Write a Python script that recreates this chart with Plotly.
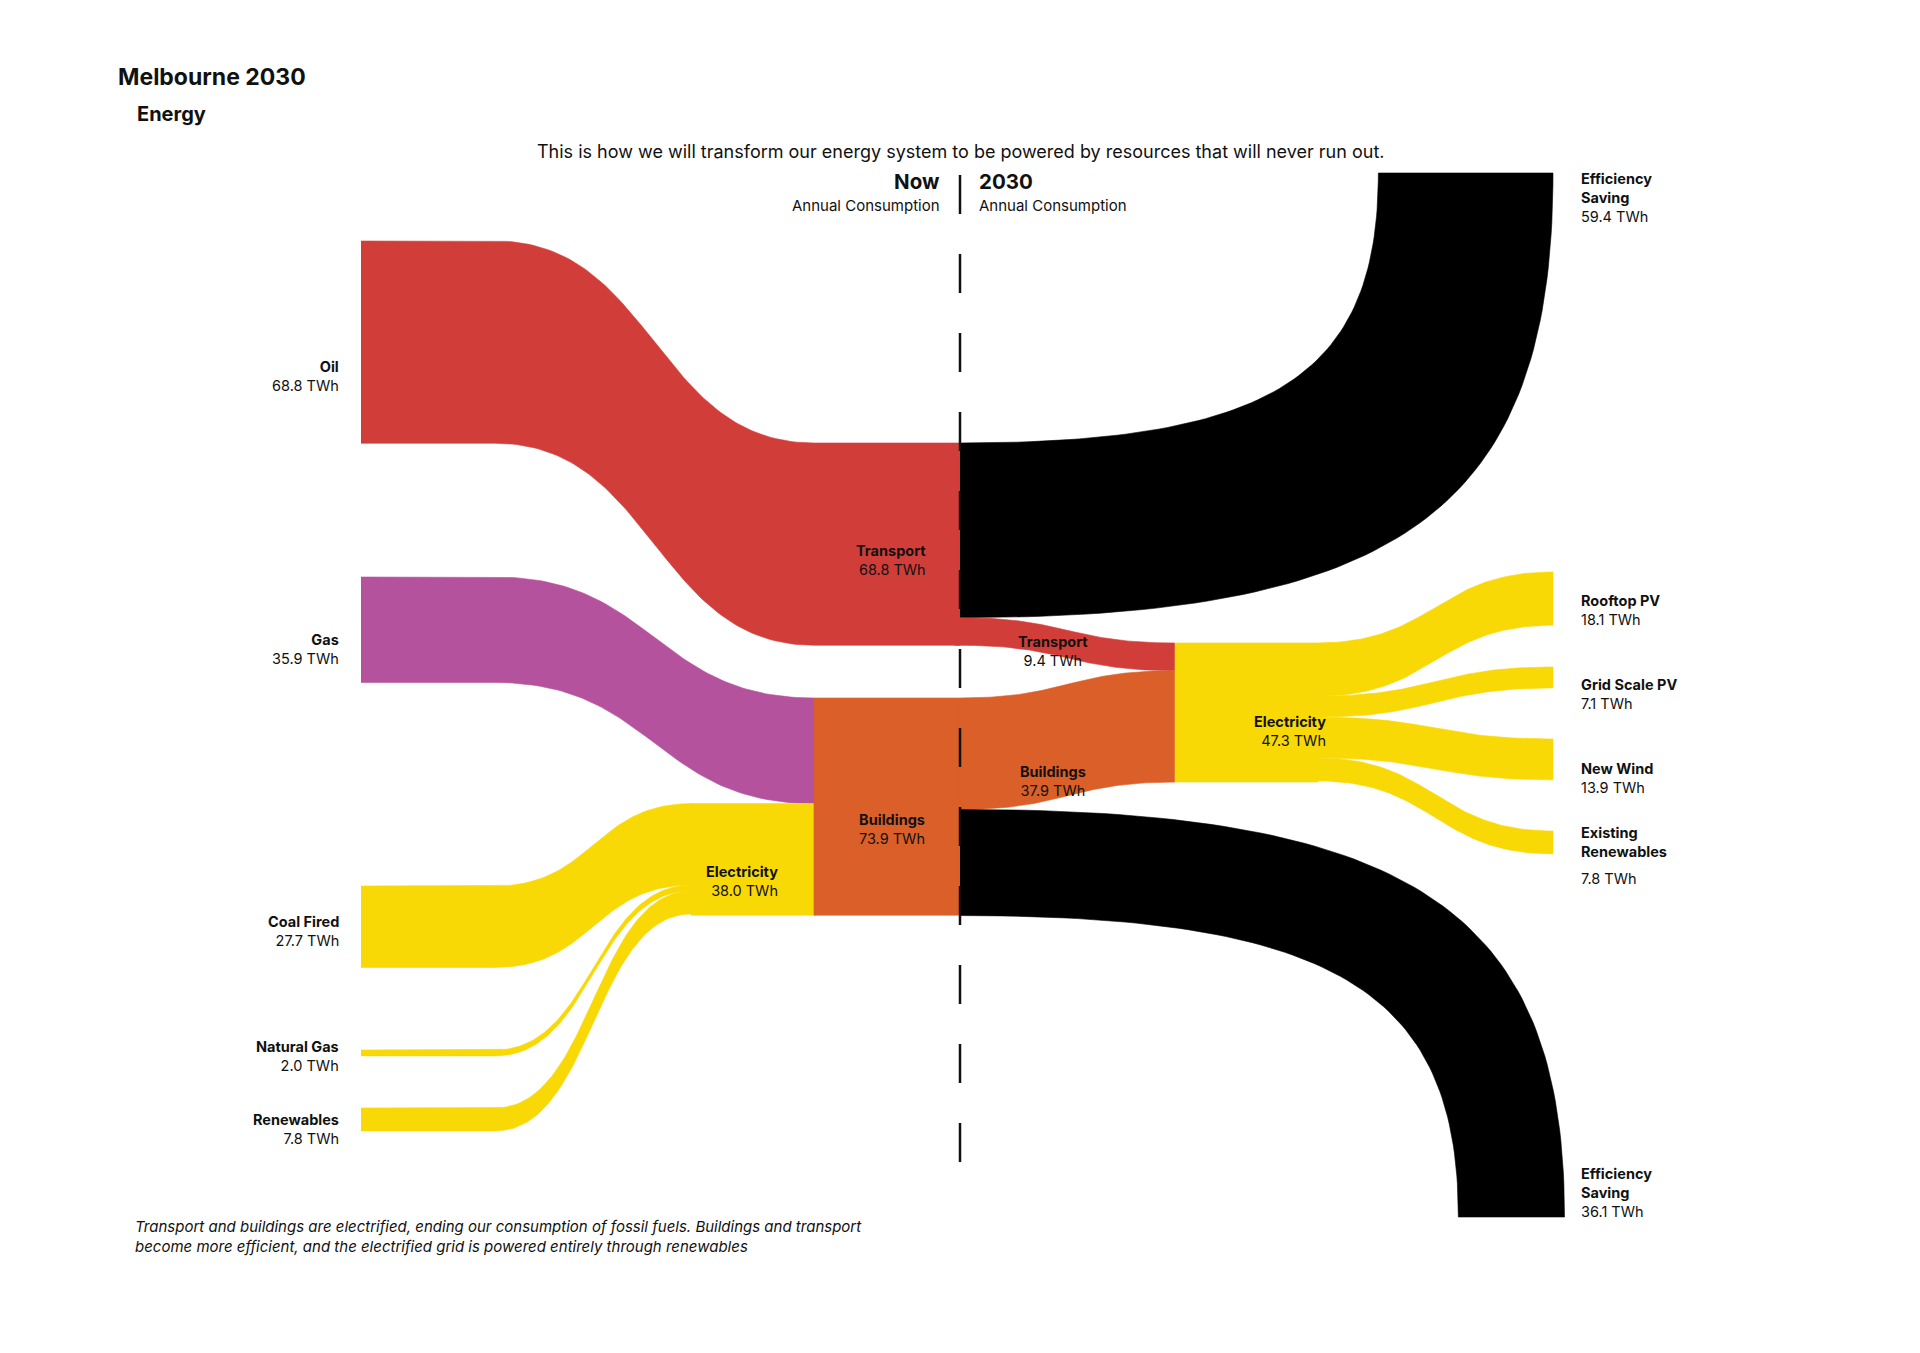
import numpy as np
import plotly.graph_objects as go

# ---------------- data (TWh) ----------------
now_sources = ["Oil", "Gas", "Coal Fired", "Natural Gas", "Renewables"]
now_source_values = [68.8, 35.9, 27.7, 2.0, 7.8]
now_electricity_value = 38.0
now_sectors = ["Transport", "Buildings"]
now_sector_values = [68.8, 73.9]
future_sectors = ["Transport", "Buildings"]
future_sector_values = [9.4, 37.9]
saving_labels = ["Efficiency Saving", "Efficiency Saving"]
saving_values = [59.4, 36.1]
future_electricity_value = 47.3
future_sources = ["Rooftop PV", "Grid Scale PV", "New Wind", "Existing Renewables"]
future_source_values = [18.1, 7.1, 13.9, 7.8]

# ---------------- style / layout ----------------
RED, PURPLE, YELLOW, ORANGE, BLACK = "#D13E3A", "#B4529D", "#F8D906", "#DB5F29", "#000000"
TXT = "#111111"
FONT = "Inter"
W, H = 1920, 1353
K = 2.94  # px per TWh

X_SRC, X_SRC_END = 361, 495
X_ELEC1, X_MID, X_DIV = 692, 814, 960
X_ELEC2, X_ELEC2_END, X_RIGHT = 1175, 1317, 1553
src_tops = [241, 577, 886, 1050, 1108]
transport_top, buildings_top = 443, 698
elec2_top = 643
right_tops = [572, 667, 739, 831]
saving_end_y = [173, 1217]
saving_end_right = [1553, 1564.5]
TURN = 0.75
LABEL_SIZE = 14.5

fig = go.Figure()


def bez(p0, p1, p2, p3, n=80):
    t = np.linspace(0, 1, n)[:, None]
    p0, p1, p2, p3 = map(np.array, (p0, p1, p2, p3))
    pts = (1 - t) ** 3 * p0 + 3 * (1 - t) ** 2 * t * p1 + 3 * (1 - t) * t ** 2 * p2 + t ** 3 * p3
    return pts[:, 0], pts[:, 1]


def s_edge(x0, y0, x1, y1):
    xm = (x0 + x1) / 2
    return bez((x0, y0), (xm, y0), (xm, y1), (x1, y1))


def add_poly(xs, ys, color):
    fig.add_trace(go.Scatter(x=list(xs), y=list(ys), mode="lines", fill="toself",
                             fillcolor=color, line=dict(color=color, width=0.6),
                             hoverinfo="skip", showlegend=False))


def s_band(x0, y0, x1, y1, value, color, xl=None, xr=None):
    w = value * K
    tx, ty = s_edge(x0, y0, x1, y1)
    bx, by = s_edge(x0, y0 + w, x1, y1 + w)
    xl = x0 if xl is None else xl
    xr = x1 if xr is None else xr
    xs = [xl] + list(tx) + [xr, xr] + list(bx[::-1]) + [xl]
    ys = [y0] + list(ty) + [y1, y1 + w] + list(by[::-1]) + [y0 + w]
    add_poly(xs, ys, color)


def turn_edge(x0, y0, x3, y3):
    return bez((x0, y0), (x0 + TURN * (x3 - x0), y0), (x3, y3 + TURN * (y0 - y3)), (x3, y3))


def rect(x0, x1, y0, value, color):
    add_poly([x0, x1, x1, x0, x0], [y0, y0, y0 + value * K, y0 + value * K, y0], color)


# ---- "Now" side ----
# Oil -> Transport
s_band(X_SRC_END, src_tops[0], X_MID, transport_top, now_source_values[0], RED, xl=X_SRC, xr=X_DIV)
# Gas -> Buildings
s_band(X_SRC_END, src_tops[1], X_MID, buildings_top, now_source_values[1], PURPLE, xl=X_SRC)
# Electricity (now) node and its inputs
elec1_top = buildings_top + now_source_values[1] * K
y = elec1_top
for top, v in zip(src_tops[2:], now_source_values[2:]):
    s_band(X_SRC_END, top, X_ELEC1, y, v, YELLOW, xl=X_SRC)
    y += v * K
rect(X_ELEC1 - 1, X_MID + 1, elec1_top, now_electricity_value, YELLOW)
# Buildings node
rect(X_MID, X_DIV, buildings_top, now_sector_values[1], ORANGE)

# ---- "2030" side ----
# Transport: efficiency saving (turns up) then remaining transport to electricity
w_sv = saving_values[0] * K
ix, iy = turn_edge(X_DIV, transport_top, saving_end_right[0] - w_sv, saving_end_y[0])
ox, oy = turn_edge(X_DIV, transport_top + w_sv, saving_end_right[0], saving_end_y[0])
add_poly(list(ix) + list(ox[::-1]), list(iy) + list(oy[::-1]), BLACK)

t_top = transport_top + w_sv
s_band(X_DIV, t_top, X_ELEC2, elec2_top, future_sector_values[0], RED, xl=X_DIV - 6)
b_top = buildings_top
s_band(X_DIV, b_top, X_ELEC2, elec2_top + future_sector_values[0] * K, future_sector_values[1], ORANGE)

# Buildings efficiency saving (turns down)
w_sb = saving_values[1] * K
s0 = buildings_top + future_sector_values[1] * K
ox, oy = turn_edge(X_DIV, s0, saving_end_right[1], saving_end_y[1])
ix, iy = turn_edge(X_DIV, s0 + w_sb, saving_end_right[1] - w_sb, saving_end_y[1])
add_poly(list(ox) + list(ix[::-1]), list(oy) + list(iy[::-1]), BLACK)

# Electricity 2030 node and fan-out
y = elec2_top
for top, v in zip(right_tops, future_source_values):
    s_band(X_ELEC2_END, y, X_RIGHT, top, v, YELLOW)
    y += v * K
rect(X_ELEC2, X_ELEC2_END + 1, elec2_top, future_electricity_value, YELLOW)

# ---- divider ----
fig.add_trace(go.Scatter(x=[X_DIV, X_DIV], y=[175, 214], mode="lines",
                         line=dict(color=TXT, width=2.5), hoverinfo="skip", showlegend=False))
fig.add_trace(go.Scatter(x=[X_DIV, X_DIV], y=[254, 1163], mode="lines",
                         line=dict(color=TXT, width=2.5, dash="39px,40px"),
                         hoverinfo="skip", showlegend=False))

# ---------------- text ----------------
def ann(x, y, text, size=LABEL_SIZE, xanchor="left", color=TXT):
    align = "center" if xanchor == "center" else xanchor
    fig.add_annotation(x=x, y=y, xref="x", yref="y", text=text, showarrow=False,
                       xanchor=xanchor, yanchor="middle", align=align,
                       font=dict(family=FONT, size=size, color=color))


def lab(name, v):
    return "<b>" + name + "</b><br>" + f"{v:.1f} TWh"


ann(116, 77, "<b>Melbourne 2030</b>", size=23)
ann(135, 114, "<b>Energy</b>", size=20)
ann(960, 151, "This is how we will transform our energy system to be powered by resources that will never run out.",
    size=18, xanchor="center")
ann(942, 181, "<b>Now</b>", size=20.5, xanchor="right")
ann(942, 205, "Annual Consumption", size=15, xanchor="right")
ann(977, 181, "<b>2030</b>", size=20.5)
ann(977, 205, "Annual Consumption", size=15)

left_label_y = [376, 649, 931, 1056, 1129]
for n, v, yy in zip(now_sources, now_source_values, left_label_y):
    ann(341, yy, lab(n, v), xanchor="right")

ann(928, 560, lab(now_sectors[0], now_sector_values[0]), xanchor="right")
ann(927, 829, lab(now_sectors[1], now_sector_values[1]), xanchor="right")
ann(780, 881, lab("Electricity", now_electricity_value), xanchor="right")
ann(1053, 651, lab(future_sectors[0], future_sector_values[0]), xanchor="center")
ann(1053, 781, lab(future_sectors[1], future_sector_values[1]), xanchor="center")
ann(1328, 731, lab("Electricity", future_electricity_value), xanchor="right")

ann(1579, 197, lab(saving_labels[0].replace(" ", "<br>"), saving_values[0]))
ann(1579, 1192, lab(saving_labels[1].replace(" ", "<br>"), saving_values[1]))
right_label_y = [610, 694, 778]
for n, v, yy in zip(future_sources[:3], future_source_values[:3], right_label_y):
    ann(1579, yy, lab(n, v))
ann(1579, 842, "<b>" + future_sources[3].replace(" ", "<br>") + "</b>")
ann(1579, 878, f"{future_source_values[3]:.1f} TWh")

ann(133, 1236, "<i>Transport and buildings are electrified, ending our consumption of fossil fuels. Buildings and transport"
               "<br>become more efficient, and the electrified grid is powered entirely through renewables</i>",
    size=15)

fig.update_layout(
    width=W, height=H, margin=dict(l=0, r=0, t=0, b=0),
    paper_bgcolor="white", plot_bgcolor="white",
    xaxis=dict(range=[0, W], visible=False, fixedrange=True),
    yaxis=dict(range=[H, 0], visible=False, fixedrange=True),
    showlegend=False,
)

fig.write_html("out.html", config={"displayModeBar": False},
               post_script="document.body.style.margin='0';document.body.style.overflow='hidden';")
